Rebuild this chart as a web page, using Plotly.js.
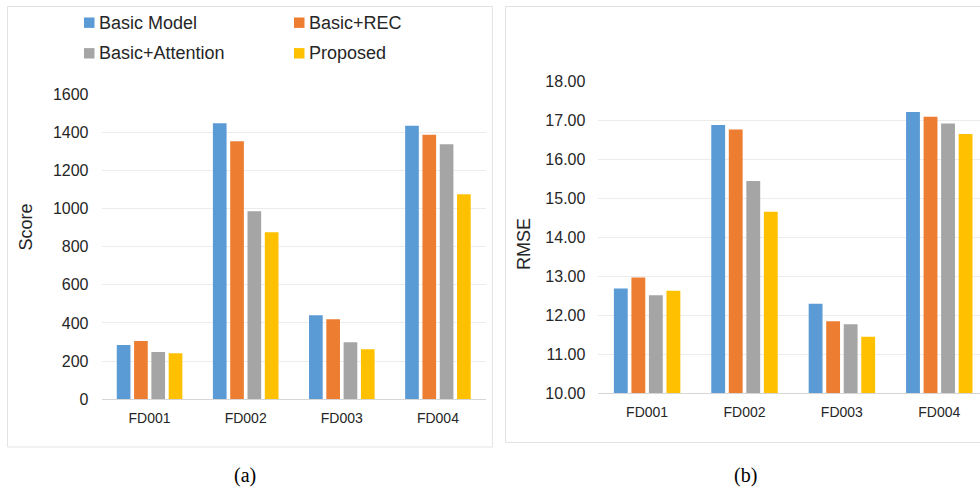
<!DOCTYPE html>
<html>
<head>
<meta charset="utf-8">
<script src="https://cdn.plot.ly/plotly-3.0.1.min.js"></script>
<style>
  html, body { margin: 0; padding: 0; background: #ffffff; overflow: hidden; }
  #chart { width: 980px; height: 489px; }
</style>
</head>
<body>
<div id="chart"></div>
<script>
// Datasets on the x axis
const datasets = ['FD001', 'FD002', 'FD003', 'FD004'];

// Model variants and their bar colours
const models = ['Basic Model', 'Basic+REC', 'Basic+Attention', 'Proposed'];
const colors = ['#5B9BD5', '#ED7D31', '#A5A5A5', '#FFC000'];

// (a) Score of each model on FD001..FD004
const scoreBasic     = [285, 1447, 440, 1433];
const scoreREC       = [305, 1353, 420, 1386];
const scoreAttention = [248, 986, 299, 1337];
const scoreProposed  = [241, 876, 262, 1075];
const scoreByModel = [scoreBasic, scoreREC, scoreAttention, scoreProposed];

// (b) RMSE of each model on FD001..FD004
const rmseBasic     = [12.69, 16.89, 12.30, 17.22];
const rmseREC       = [12.97, 16.77, 11.85, 17.10];
const rmseAttention = [12.52, 15.45, 11.77, 16.93];
const rmseProposed  = [12.63, 14.66, 11.45, 16.66];
const rmseByModel = [rmseBasic, rmseREC, rmseAttention, rmseProposed];

const W = 980, H = 489;
const px = x => x / W;
const py = y => 1 - y / H;

const traces = [];
models.forEach((name, i) => {
  traces.push({
    type: 'bar', name: name, x: datasets, y: scoreByModel[i],
    marker: { color: colors[i] }, xaxis: 'x', yaxis: 'y',
    showlegend: false, hoverinfo: 'x+y+name'
  });
});
models.forEach((name, i) => {
  traces.push({
    type: 'bar', name: name, x: datasets, y: rmseByModel[i],
    marker: { color: colors[i] }, xaxis: 'x2', yaxis: 'y2',
    showlegend: false, hoverinfo: 'x+y+name'
  });
});

const textColor = '#262626';
const tickFont = { family: 'Liberation Sans, Arial, sans-serif', size: 16, color: textColor };
const catFont = { family: 'Liberation Sans, Arial, sans-serif', size: 14, color: textColor };
const gridColor = '#ececec';
const lineColor = '#d6d6d6';

// Panel frames
const shapes = [
  { type: 'rect', xref: 'paper', yref: 'paper',
    x0: px(7.5), x1: px(492.5), y0: py(447), y1: py(6.5),
    line: { color: '#e3e3e3', width: 1 }, fillcolor: 'rgba(0,0,0,0)', layer: 'below' },
  { type: 'rect', xref: 'paper', yref: 'paper',
    x0: px(505.5), x1: px(995), y0: py(442.5), y1: py(6.5),
    line: { color: '#e3e3e3', width: 1 }, fillcolor: 'rgba(0,0,0,0)', layer: 'below' }
];

const annotations = [
  { text: 'Score', xref: 'paper', yref: 'paper', x: px(25), y: py(227.5),
    textangle: -90, showarrow: false, xanchor: 'center', yanchor: 'middle',
    font: { family: 'Liberation Sans, Arial, sans-serif', size: 18, color: textColor } },
  { text: 'RMSE', xref: 'paper', yref: 'paper', x: px(524), y: py(244),
    textangle: -90, showarrow: false, xanchor: 'center', yanchor: 'middle',
    font: { family: 'Liberation Sans, Arial, sans-serif', size: 18, color: textColor } },
  { text: '(a)', xref: 'paper', yref: 'paper', x: px(245), y: py(475),
    showarrow: false, xanchor: 'center', yanchor: 'middle',
    font: { family: 'Liberation Serif, Times New Roman, serif', size: 20, color: '#000' } },
  { text: '(b)', xref: 'paper', yref: 'paper', x: px(745), y: py(475),
    showarrow: false, xanchor: 'center', yanchor: 'middle',
    font: { family: 'Liberation Serif, Times New Roman, serif', size: 20, color: '#000' } }
];

// Legend in a 2x2 grid above panel (a)
const legendCols = [84, 294];
const legendRows = [22.7, 53.3];
models.forEach((name, i) => {
  const cx = legendCols[i % 2];
  const cy = legendRows[Math.floor(i / 2)];
  shapes.push({
    type: 'rect', xref: 'paper', yref: 'paper',
    x0: px(cx), x1: px(cx + 10.5), y0: py(cy + 5.2), y1: py(cy - 5.2),
    line: { width: 0 }, fillcolor: colors[i]
  });
  annotations.push({
    text: name, xref: 'paper', yref: 'paper', x: px(cx + 13), y: py(cy),
    showarrow: false, xanchor: 'left', yanchor: 'middle',
    font: { family: 'Liberation Sans, Arial, sans-serif', size: 18, color: textColor }
  });
});

const layout = {
  width: W, height: H,
  margin: { l: 0, r: 0, t: 0, b: 0 },
  paper_bgcolor: '#ffffff', plot_bgcolor: '#ffffff',
  barmode: 'group', bargap: 0.28, bargroupgap: 0.21,
  showlegend: false,
  xaxis: {
    domain: [px(101.5), px(486)], range: [-0.5, 3.5], type: 'category',
    showgrid: false, showline: true, linecolor: lineColor, linewidth: 1,
    ticks: '', tickfont: catFont, ticklabelstandoff: 6, fixedrange: true
  },
  yaxis: {
    domain: [py(399.3), py(94)], range: [0, 1600], dtick: 200,
    showgrid: true, gridcolor: gridColor, gridwidth: 1, zeroline: false,
    showline: false, ticks: '', tickfont: tickFont, ticklabelstandoff: 12, fixedrange: true
  },
  xaxis2: {
    domain: [px(598.4), 1], range: [-0.5, 3.418], type: 'category', anchor: 'y2',
    showgrid: false, showline: true, linecolor: lineColor, linewidth: 1,
    ticks: '', tickfont: catFont, ticklabelstandoff: 6, fixedrange: true
  },
  yaxis2: {
    domain: [py(393.3), py(81.7)], range: [10, 18], dtick: 1, tickformat: '.2f',
    anchor: 'x2',
    showgrid: true, gridcolor: gridColor, gridwidth: 1, zeroline: false,
    showline: false, ticks: '', tickfont: tickFont, ticklabelstandoff: 12, fixedrange: true
  },
  shapes: shapes,
  annotations: annotations
};

Plotly.newPlot('chart', traces, layout, { displayModeBar: false, staticPlot: true });
</script>
</body>
</html>
